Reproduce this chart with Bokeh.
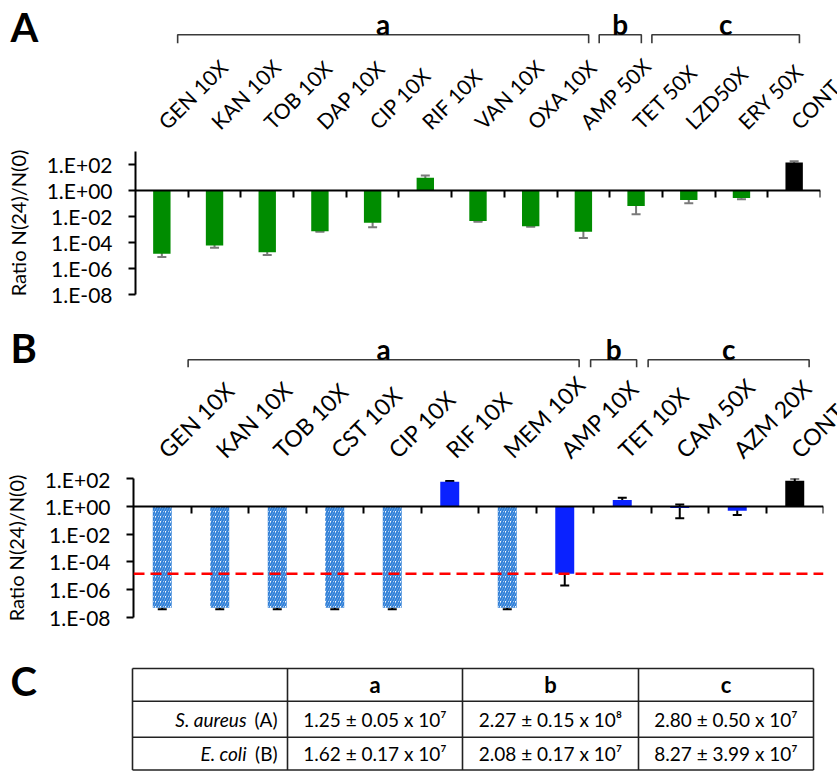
from math import pi
from bokeh.plotting import figure
from bokeh.layouts import column
from bokeh.models import (Range1d, LinearAxis, FixedTicker, CustomJSTickFormatter,
                          ColumnDataSource, Whisker, TeeHead, Span)
from bokeh.embed import file_html
from bokeh.resources import INLINE
from bokeh.core.properties import value

FONT = "Lato"
W = 837

# ---------------- Panel A: S. aureus ----------------
cats_A = ["GEN 10X", "KAN 10X", "TOB 10X", "DAP 10X", "CIP 10X", "RIF 10X", "VAN 10X",
          "OXA 10X", "AMP 50X", "TET 50X", "LZD50X", "ERY 50X", "CONT"]
ratio_A = [1.35e-5, 5.9e-5, 1.8e-5, 7.4e-4, 3.3e-3, 9.5, 4.5e-3, 1.8e-3, 6.8e-4,
           0.065, 0.19, 0.26, 140]
sd_A = [6e-6, 2e-5, 7e-6, 8e-5, 1.8e-3, 5.0, 5e-4, 2e-4, 4.6e-4, 0.05, 0.085, 0.05, 35]
is_control_A = [False] * 12 + [True]
hatched_A = [False] * 13
group_names = ["a", "b", "c"]
group_first_A = [0, 8, 9]
group_last_A = [7, 8, 11]

# ---------------- Panel B: E. coli ----------------
cats_B = ["GEN 10X", "KAN 10X", "TOB 10X", "CST 10X", "CIP  10X", "RIF  10X", "MEM 10X",
          "AMP 10X", "TET 10X", "CAM 50X", "AZM 20X", "CONT"]
ratio_B = [5e-8, 5e-8, 5e-8, 5e-8, 5e-8, 59, 5e-8, 1.4e-5, 2.8, 0.74, 0.47, 69]
sd_B = [1e-8, 1e-8, 1e-8, 1e-8, 1e-8, 8, 1e-8, 1.2e-5, 1.4, 0.6, 0.23, 30]
is_control_B = [False] * 11 + [True]
hatched_B = [True, True, True, True, True, False, True, False, False, False, False, False]
group_first_B = [0, 7, 8]
group_last_B = [6, 7, 10]
detection_limit_B = 1.4e-5

y_ticks = [1e-8, 1e-6, 1e-4, 1e-2, 1, 1e2]

# ---------------- Panel C: table ----------------
table_headers = ["a", "b", "c"]
table_species = ["S. aureus", "E. coli"]
table_panels = ["(A)", "(B)"]
table_values = [["1.25 ± 0.05 x 10⁷", "2.27 ± 0.15 x 10⁸", "2.80 ± 0.50 x 10⁷"],
                ["1.62 ± 0.17 x 10⁷", "2.08 ± 0.17 x 10⁷", "8.27 ± 3.99 x 10⁷"]]

GREEN = "#008c00"
BLUE = "#0a22ff"
HATCH = "#2f7fd8"


def bare(fig):
    fig.grid.visible = False
    fig.outline_line_color = None
    return fig


def make_header(cats, firsts, lasts, pad, height, bl, br, line_y, tick_y, letter_y,
                label_y, label_size, panel_letter, panel_letter_y):
    """Header strip above a chart: same x scale as the chart frame, y scaled so that
    one unit is as long on screen as one category (isotropic, so text angles are true)."""
    n = len(cats)
    cw = (W - bl - br) / n
    xr = Range1d(-bl / cw, n + br / cw)
    h = bare(figure(width=W, height=height, x_range=xr, y_range=Range1d(0, height / cw),
                    toolbar_location=None, output_backend="svg",
                    x_axis_location=None, y_axis_location=None,
                    min_border=0, frame_align=False))
    xs, ys, cx = [], [], []
    for f, l in zip(firsts, lasts):
        s, e = f + pad[0], l + pad[1]
        xs.append([s, s, e, e])
        ys.append([tick_y / cw, line_y / cw, line_y / cw, tick_y / cw])
        cx.append((s + e) / 2)
    h.multi_line(xs, ys, line_color="#3a3a3a", line_width=1.6)
    h.text(x=cx, y=[letter_y / cw] * len(cx), text=group_names, text_font=value(FONT),
           text_font_size="28px", text_font_style="bold", text_align="center",
           text_baseline="middle", text_color="black")
    h.text(x=[i + 0.5 for i in range(n)], y=[label_y / cw] * n, text=cats,
           angle=pi / 4, text_font=value(FONT), text_font_size=label_size,
           text_align="left", text_baseline="middle", text_color="black")
    h.text(x=[xr.start + 10 / cw], y=[panel_letter_y / cw], text=[panel_letter],
           text_font=value(FONT), text_font_size="40px", text_font_style="bold",
           text_align="left", text_baseline="middle", text_color="black")
    return h


def make_chart(cats, ratio, sd, is_control, hatched, ymax, frame_h, bl, br, bt,
               err_color, solid_color, detection=None):
    n = len(cats)
    p = bare(figure(width=W, height=bt + frame_h + 14, x_range=Range1d(0, n),
                    y_range=Range1d(1e-8, ymax), y_axis_type="log", x_axis_location=None,
                    toolbar_location=None, output_backend="svg", frame_align=False,
                    min_border_left=bl, min_border_right=br,
                    min_border_top=bt, min_border_bottom=14))
    xs = [i + 0.5 for i in range(n)]
    solid = ColumnDataSource(dict(
        x=[x for x, hh in zip(xs, hatched) if not hh],
        top=[r for r, hh in zip(ratio, hatched) if not hh],
        color=["black" if c else solid_color for c, hh in zip(is_control, hatched) if not hh]))
    p.vbar(x="x", top="top", bottom=1, width=0.33, source=solid,
           fill_color="color", line_color=None)
    if any(hatched):
        hsrc = ColumnDataSource(dict(
            x=[x for x, hh in zip(xs, hatched) if hh],
            top=[r for r, hh in zip(ratio, hatched) if hh]))
        p.vbar(x="x", top="top", bottom=1, width=0.33, source=hsrc,
               fill_color="white", hatch_pattern="/", hatch_color=HATCH,
               hatch_scale=5, hatch_weight=2, line_color=None)
    if detection is not None:
        p.add_layout(Span(location=detection, dimension="width", line_color="#ff0000",
                          line_dash="11 6", line_width=2.5))
    esrc = ColumnDataSource(dict(
        x=xs,
        upper=[r + s for r, s in zip(ratio, sd)],
        lower=[max(r - s, r * 0.05) for r, s in zip(ratio, sd)]))
    p.add_layout(Whisker(source=esrc, base="x", upper="upper", lower="lower",
                         line_color=err_color, line_width=2,
                         upper_head=TeeHead(size=9, line_color=err_color, line_width=2),
                         lower_head=TeeHead(size=9, line_color=err_color, line_width=2)))
    ya = p.yaxis[0]
    ya.ticker = FixedTicker(ticks=y_ticks)
    ya.formatter = CustomJSTickFormatter(code="""
        const e = Math.round(Math.log10(tick));
        const a = Math.abs(e);
        return "1.E" + (e < 0 ? "-" : "+") + (a < 10 ? "0" : "") + a;
    """)
    ya.axis_line_width = 2
    ya.axis_line_color = "black"
    ya.major_tick_line_width = 2
    ya.major_tick_line_color = "black"
    ya.major_tick_out = 7
    ya.major_tick_in = 0
    ya.minor_tick_line_color = None
    ya.major_label_standoff = 16
    ya.major_label_text_font = FONT
    ya.major_label_text_font_size = "21px"
    ya.major_label_text_color = "black"
    ya.axis_label = "Ratio N(24)/N(0)"
    ya.axis_label_text_font = FONT
    ya.axis_label_text_font_size = "20px"
    ya.axis_label_text_font_style = "normal"
    ya.axis_label_text_color = "black"
    ya.axis_label_standoff = 14
    # x axis line at ratio = 1, ticks at category boundaries
    xa = LinearAxis(fixed_location=1, ticker=FixedTicker(ticks=list(range(1, n + 1))),
                    formatter=CustomJSTickFormatter(code="return ''"))
    xa.axis_line_width = 2
    xa.axis_line_color = "black"
    xa.major_tick_line_width = 2
    xa.major_tick_line_color = "black"
    xa.major_tick_out = 7
    xa.major_tick_in = 0
    xa.minor_tick_line_color = None
    xa.major_label_text_color = None
    xa.major_label_standoff = 0
    p.add_layout(xa, "below")
    return p


headA = make_header(cats_A, group_first_A, group_last_A, (0.8, 1.6), 145, 135, 17,
                    110.7, 102.3, 121.5, 20.6, "21px", "A", 119)
chartA = make_chart(cats_A, ratio_A, sd_A, is_control_A, hatched_A, 1e3, 143, 135, 17, 6,
                    "#7a7a7a", GREEN)
headB = make_header(cats_B, group_first_B, group_last_B, (0.95, 1.75), 158, 133, 14,
                    106.7, 99.3, 117.7, 13, "23px", "B", 119)
chartB = make_chart(cats_B, ratio_B, sd_B, is_control_B, hatched_B, 1e2, 139, 133, 14, 12,
                    "black", BLUE, detection=detection_limit_B)

# ---------------- table ----------------
TH = 140
t = bare(figure(width=W, height=TH, x_range=Range1d(0, W), y_range=Range1d(0, TH),
                toolbar_location=None, output_backend="svg", frame_align=False,
                x_axis_location=None, y_axis_location=None, min_border=0))
table_left = 132
col_widths = [155, 175, 176, 175]
row_edges = [103, 70.3, 34.3, 1.5]
col_edges = [table_left]
for cw_ in col_widths:
    col_edges.append(col_edges[-1] + cw_)
t.segment(x0=[col_edges[0]] * len(row_edges), y0=row_edges,
          x1=[col_edges[-1]] * len(row_edges), y1=row_edges,
          line_color="#222222", line_width=1.6)
t.segment(x0=col_edges, y0=[row_edges[0]] * len(col_edges),
          x1=col_edges, y1=[row_edges[-1]] * len(col_edges),
          line_color="#222222", line_width=1.6)
col_centers = [(col_edges[i] + col_edges[i + 1]) / 2 for i in range(1, 4)]
row_centers = [(row_edges[i] + row_edges[i + 1]) / 2 for i in range(3)]
t.text(x=col_centers, y=[row_centers[0]] * 3, text=table_headers, text_font=value(FONT),
       text_font_size="22px", text_font_style="bold", text_align="center",
       text_baseline="middle", text_color="black")
for r, vals in enumerate(table_values):
    t.text(x=col_centers, y=[row_centers[r + 1]] * 3, text=vals, text_font=value(FONT),
           text_font_size="19px", text_align="center", text_baseline="middle",
           text_color="black")
lab_x = col_edges[1] - 10
t.text(x=[lab_x] * 2, y=row_centers[1:], text=table_panels, text_font=value(FONT),
       text_font_size="19px", text_align="right", text_baseline="middle", text_color="black")
t.text(x=[lab_x] * 2, y=row_centers[1:], text=table_species, text_font=value(FONT),
       text_font_size="19px", text_font_style="italic", text_align="right",
       text_baseline="middle", text_color="black", x_offset=-31)
t.text(x=[10], y=[90.5], text=["C"], text_font=value(FONT), text_font_size="40px",
       text_font_style="bold", text_align="left", text_baseline="middle",
       text_color="black")

layout = column(headA, chartA, headB, chartB, t, spacing=0)
open("out.html", "w").write(file_html(layout, INLINE))
